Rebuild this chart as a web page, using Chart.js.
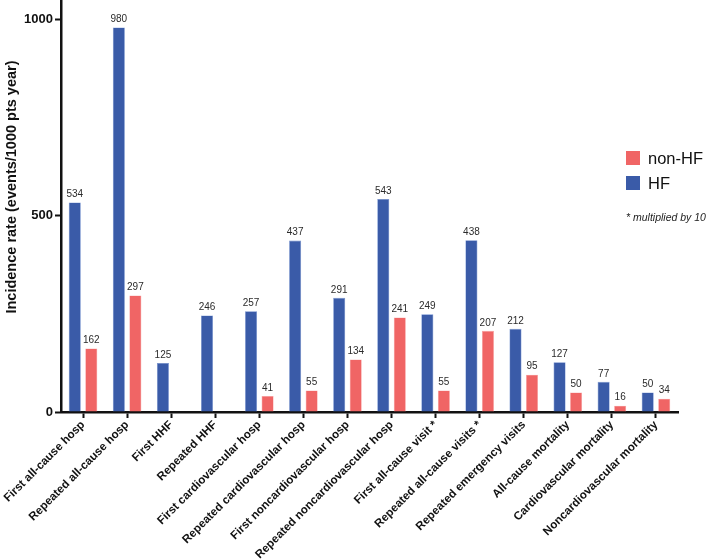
<!DOCTYPE html>
<html>
<head>
<meta charset="utf-8">
<script src="https://cdn.jsdelivr.net/npm/chart.js@4.4.1/dist/chart.umd.min.js"></script>
<style>
  html, body { margin: 0; padding: 0; background: #fff; }
  #wrap { position: relative; width: 709px; height: 559px; }
</style>
</head>
<body>
<div id="wrap"><canvas id="incidenceChart" width="709" height="559"></canvas></div>
<script>
  const categories = [
    'First all-cause hosp', 'Repeated all-cause hosp', 'First HHF', 'Repeated HHF',
    'First cardiovascular hosp', 'Repeated cardiovascular hosp', 'First noncardiovascular hosp',
    'Repeated noncardiovascular hosp', 'First all-cause visit *', 'Repeated all-cause visits *',
    'Repeated emergency visits', 'All-cause mortality', 'Cardiovascular mortality',
    'Noncardiovascular mortality'
  ];
  const hfValues = [534, 980, 125, 246, 257, 437, 291, 543, 249, 438, 212, 127, 77, 50];
  const nonHfValues = [162, 297, null, null, 41, 55, 134, 241, 55, 207, 95, 50, 16, 34];
  const yTicks = [0, 500, 1000];
  const yTitle = 'Incidence rate (events/1000 pts year)';

  const FONT = '"Liberation Sans", Arial, Helvetica, sans-serif';
  const BLUE = '#3A5BA8';
  const RED = '#F06565';

  // value labels above each bar
  const barValues = {
    id: 'barValues',
    afterDatasetsDraw(chart) {
      const ctx = chart.ctx;
      ctx.save();
      ctx.font = `10px ${FONT}`;
      ctx.fillStyle = '#2b2b2b';
      ctx.textAlign = 'center';
      ctx.textBaseline = 'bottom';
      chart.data.datasets.forEach((ds, i) => {
        chart.getDatasetMeta(i).data.forEach((bar, j) => {
          const v = ds.data[j];
          if (v === null || v === undefined) return;
          ctx.fillText(String(v), bar.x, bar.y - 3);
        });
      });
      ctx.restore();
    }
  };

  // legend, note and y title (title sits a bit above the axis middle in the original)
  const extras = {
    id: 'extras',
    afterDraw(chart) {
      const ctx = chart.ctx;
      const items = [
        { label: 'non-HF', color: RED },
        { label: 'HF', color: BLUE }
      ];
      ctx.save();
      ctx.textBaseline = 'middle';
      ctx.textAlign = 'left';
      items.forEach((item, i) => {
        const y = 151 + i * 25;
        ctx.fillStyle = item.color;
        ctx.fillRect(626, y, 14, 14);
        ctx.fillStyle = '#111';
        ctx.font = `16.5px ${FONT}`;
        ctx.fillText(item.label, 648, y + 8);
      });
      ctx.font = `italic 10.5px ${FONT}`;
      ctx.fillStyle = '#222';
      ctx.fillText('* multiplied by 10', 626, 218);

      ctx.translate(12, 187);
      ctx.rotate(-Math.PI / 2);
      ctx.textAlign = 'center';
      ctx.font = `bold 14.5px ${FONT}`;
      ctx.fillStyle = '#111';
      ctx.fillText(yTitle, 0, 0);
      ctx.restore();
    }
  };

  new Chart(document.getElementById('incidenceChart'), {
    type: 'bar',
    data: {
      labels: categories,
      datasets: [
        {
          label: 'HF',
          data: hfValues,
          backgroundColor: BLUE,
          borderColor: '#6f8fd0',
          borderWidth: 0.6,
          barPercentage: 0.73,
          categoryPercentage: 0.75
        },
        {
          label: 'non-HF',
          data: nonHfValues,
          backgroundColor: RED,
          borderColor: '#f8a0a0',
          borderWidth: 0.6,
          barPercentage: 0.73,
          categoryPercentage: 0.75
        }
      ]
    },
    options: {
      responsive: false,
      animation: false,
      layout: { padding: { left: 0, right: 31, top: 0, bottom: 0 } },
      plugins: {
        legend: { display: false },
        tooltip: { enabled: false }
      },
      scales: {
        x: {
          offset: true,
          grid: {
            drawOnChartArea: false,
            drawTicks: true,
            tickLength: 6,
            tickWidth: 2,
            tickColor: '#111',
            offset: false
          },
          border: { display: true, color: '#111', width: 2.5 },
          ticks: {
            autoSkip: false,
            maxRotation: 45,
            minRotation: 45,
            padding: 0,
            color: '#111',
            font: { family: FONT, size: 11.6, weight: 'bold' }
          },
          afterFit(scale) {
            scale.height = 147;
            scale.paddingLeft = 0;
            scale.paddingRight = 0;
          }
        },
        y: {
          min: 0,
          max: 1050,
          afterBuildTicks(scale) {
            scale.ticks = yTicks.map((v) => ({ value: v }));
          },
          grid: {
            drawOnChartArea: false,
            drawTicks: true,
            tickLength: 6,
            tickWidth: 2,
            tickColor: '#111'
          },
          border: { display: true, color: '#111', width: 2.5 },
          ticks: {
            padding: 2,
            color: '#111',
            font: { family: FONT, size: 13, weight: 'bold' },
            callback: (v) => String(v)
          },
          title: { display: false },
          afterFit(scale) {
            scale.width = 61;
            scale.paddingTop = 0;
            scale.paddingBottom = 0;
          }
        }
      }
    },
    plugins: [barValues, extras]
  });
</script>
</body>
</html>
